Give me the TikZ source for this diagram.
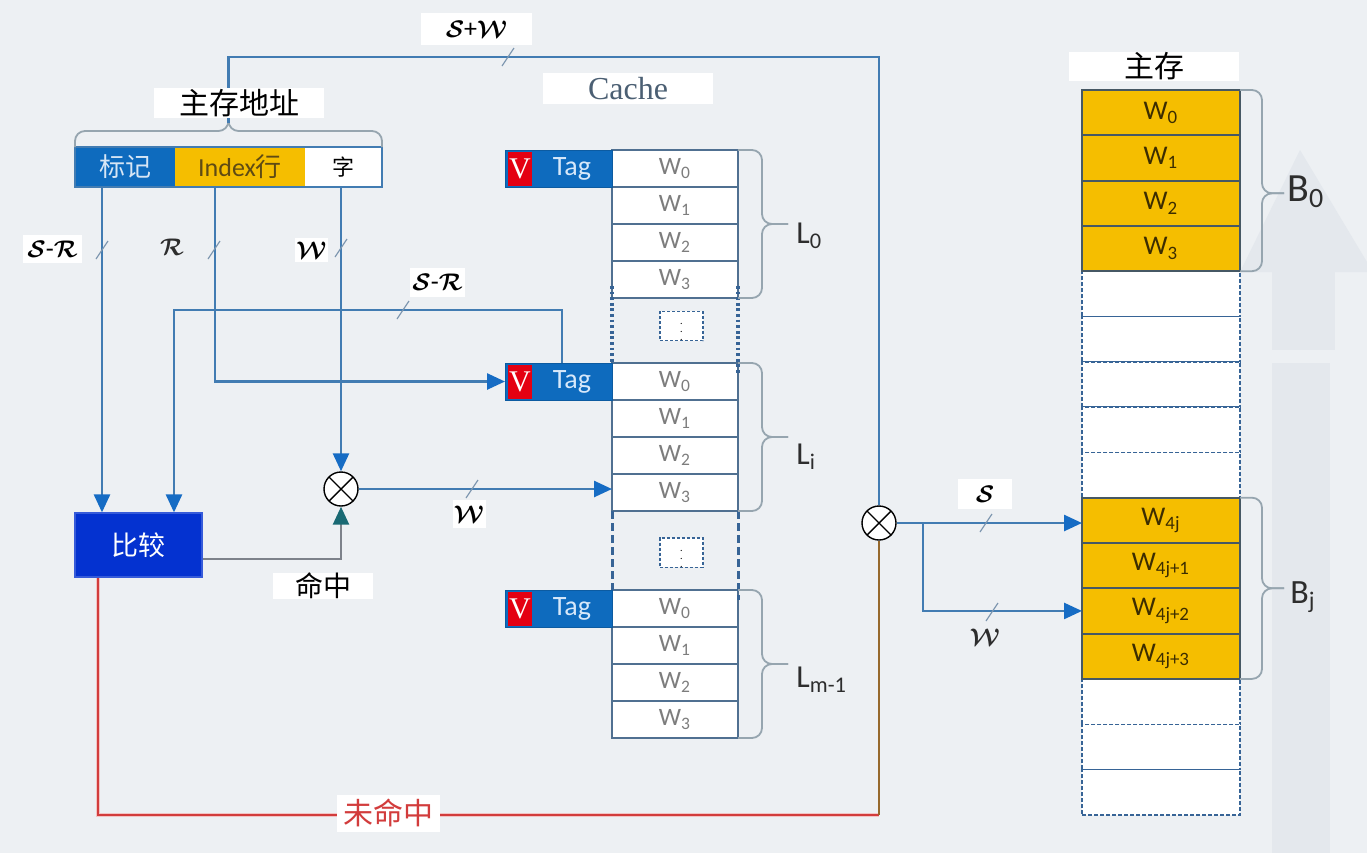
\documentclass[tikz,border=0pt]{standalone}
\usepackage{fontspec}
\usepackage{amsmath}
\setmainfont{Carlito}
\newfontfamily\cjk{Noto Sans CJK SC}
\newfontfamily\serf{Liberation Serif}
\usetikzlibrary{arrows.meta,calc}
\newcommand\fsz[1]{\fontsize{#1}{#1}\selectfont}
\newcommand\scrl[1]{\boldsymbol{\mathcal{#1}}}
\newcommand\tickat[1]{\draw[tick] (#1) ++(-6,9) -- ++(12,-18);}
% vertical brace: top, bottom, arm offset, tip offset, fraction of tip
\newcommand\vbrace[5]{%
  \draw[bstyle] (#1) -- ($(#1)+(#3,0)$) -- ($(#1)!#5!(#2)+(#3,0)$) -- ($(#1)!#5!(#2)+(#4,0)$);
  \draw[bstyle] (#2) -- ($(#2)+(#3,0)$) -- ($(#1)!#5!(#2)+(#3,0)$) -- ($(#1)!#5!(#2)+(#4,0)$);}
% horizontal brace (upwards): left, right, arm offset, tip offset
\newcommand\hbrace[4]{%
  \draw[bstyle] (#1) -- ($(#1)+(0,#3)$) -- ($(#1)!0.5!(#2)+(0,#3)$) -- ($(#1)!0.5!(#2)+(0,#4)$);
  \draw[bstyle] (#2) -- ($(#2)+(0,#3)$) -- ($(#1)!0.5!(#2)+(0,#3)$) -- ($(#1)!0.5!(#2)+(0,#4)$);}
\definecolor{bg}{RGB}{237,240,243}
\definecolor{deco}{RGB}{228,232,237}
\definecolor{lineblue}{RGB}{66,124,178}
\definecolor{arrblue}{RGB}{22,108,196}
\definecolor{tagblue}{RGB}{14,107,190}
\definecolor{vred}{RGB}{228,0,18}
\definecolor{gold}{RGB}{245,190,0}
\definecolor{cmpblue}{RGB}{4,50,208}
\definecolor{cellline}{RGB}{80,112,145}
\definecolor{wgrey}{RGB}{125,125,125}
\definecolor{bracec}{RGB}{150,165,175}
\definecolor{tickc}{RGB}{125,150,175}
\definecolor{missred}{RGB}{210,60,60}
\definecolor{brownl}{RGB}{150,105,45}
\definecolor{hitgrey}{RGB}{125,130,138}
\definecolor{hitteal}{RGB}{25,105,115}
\definecolor{memline}{RGB}{70,88,100}
\definecolor{dashblue}{RGB}{55,100,150}
\definecolor{fieldtxt}{RGB}{215,230,245}
\definecolor{idxtxt}{RGB}{95,75,20}
\definecolor{tagtxtc}{RGB}{215,232,250}
\definecolor{memtext}{RGB}{60,45,0}
\definecolor{cachec}{RGB}{75,95,115}
\definecolor{labc}{RGB}{45,45,45}
\begin{document}
\begin{tikzpicture}[x=0.5pt,y=-0.5pt,
  conn/.style={draw=lineblue,line width=1.3pt},
  arr/.style={-{Triangle[length=9pt,width=8pt,color=arrblue]}},
  tick/.style={draw=tickc,line width=0.6pt},
  bstyle/.style={draw=bracec,line width=0.9pt,rounded corners=5pt},
  wbox/.style={fill=white,inner sep=0pt,outer sep=0pt},
  scriptlab/.style={inner sep=0pt,outer sep=0pt,font=\fsz{13},text=black},
  field/.style={minimum height=20pt,inner sep=0pt,outer sep=0pt,font=\fsz{13}},
  cell/.style={draw=cellline,line width=0.9pt,fill=white,minimum width=63pt,minimum height=18.5pt,inner sep=0pt,outer sep=0pt,text=wgrey,font=\fsz{12.5}},
  tagbox/.style={fill=tagblue,draw=tagblue!85!black,line width=0.5pt,minimum width=53.5pt,minimum height=18.5pt,inner sep=0pt,outer sep=0pt},
  vbox/.style={fill=vred,text=white,minimum width=12pt,minimum height=17pt,inner sep=0pt,font=\serf\fsz{15}},
  tagtxt/.style={text=tagtxtc,inner sep=0pt,font=\fsz{14}},
  minib/.style={draw=dashblue,line width=0.6pt,dash pattern=on 1.5pt off 1pt,fill=white,minimum width=21.5pt,minimum height=13.5pt,inner sep=0pt,font=\fsz{5}},
  dotv/.style={draw=dashblue,line width=1.6pt,dash pattern=on 1.4pt off 1.4pt},
  dashv/.style={draw=dashblue,line width=1.5pt,dash pattern=on 4pt off 2pt},
  memy/.style={draw=memline,line width=0.9pt,fill=gold,minimum width=79pt,minimum height=22.65pt,inner sep=0pt,outer sep=0pt,text=memtext,font=\fsz{13.5}},
  meme/.style={draw=dashblue,line width=0.7pt,dash pattern=on 2pt off 1pt,fill=white,minimum width=79pt,minimum height=22.65pt,inner sep=0pt,outer sep=0pt},
  xor/.style={circle,draw=black,line width=0.7pt,fill=white,minimum size=17pt,inner sep=0pt,
    path picture={\draw[line width=0.7pt] (path picture bounding box.center) +(45:9pt) -- +(225:9pt) +(135:9pt) -- +(-45:9pt);}},
  biglab/.style={anchor=west,inner sep=0pt,text=labc}
]
\useasboundingbox (0,0) rectangle (1367,853);
\fill[bg] (0,0) rectangle (1367,853);
% faint background decoration
\fill[deco] (1240,272) -- (1300,150) -- (1367,262) -- (1367,272) -- cycle;
\fill[deco] (1272,272) rectangle (1335,350);
\fill[deco] (1272,363) rectangle (1330,853);

% ---------- main memory ----------
\foreach \i in {4,5,6,7,8,13,14,15}
  \node[meme] (m\i) at (1161,{90+45.3*\i+22.65}) {};
\foreach \i/\lab in {0/0,1/1,2/2,3/3,9/4j,10/4j+1,11/4j+2,12/4j+3}
  \node[memy] (m\i) at (1161,{90+45.3*\i+22.65}) {W\textsubscript{\lab}};
\vbrace{m0.north east}{m3.south east}{22}{44}{0.57}
\vbrace{m9.north east}{m12.south east}{22}{44}{0.5}
\node[biglab,font=\fsz{20}] (bzero) at (1287,192) {B\textsubscript{0}};
\node[biglab,font=\fsz{17}] (bj) at (1290,597) {B\textsubscript{j}};

% ---------- cache ----------
\foreach \i in {0,...,3} {
  \node[cell] (a\i) at (675,{150+37*\i+18.5}) {W\textsubscript{\i}};
  \node[cell] (b\i) at (675,{363+37*\i+18.5}) {W\textsubscript{\i}};
  \node[cell] (c\i) at (675,{590+37*\i+18.5}) {W\textsubscript{\i}};
}
\foreach \t/\y in {a/168.5,b/381.5,c/608.5} {
  \node[tagbox] (t\t) at (558.5,\y) {};
  \node[vbox] (v\t) at (520,\y) {V};
  \node[tagtxt] (g\t) at (572,\y) {Tag};
}
\draw[dotv] ($(a3.south west)+(0,-12)$) -- (b0.north west);
\draw[dotv] ($(a3.south east)+(0,-12)$) -- ($(b0.north east)+(0,10)$);
\draw[dashv] (b3.south west) -- (c0.north west);
\draw[dashv] (b3.south east) -- ($(c0.north east)+(0,10)$);
\node[minib] (d1) at (681.5,326) {$\vdots$};
\node[minib] (d2) at (681.5,552.5) {$\vdots$};
\vbrace{a0.north east}{a3.south east}{24}{50}{0.5}
\vbrace{b0.north east}{b3.south east}{24}{50}{0.5}
\vbrace{c0.north east}{c3.south east}{24}{50}{0.5}
\node[biglab,font=\fsz{16}] (lzero) at (796,236) {L\textsubscript{0}};
\node[biglab,font=\fsz{16}] (li) at (796,457) {L\textsubscript{i}};
\node[biglab,font=\fsz{16}] (lm) at (796,680) {L\textsubscript{m-1}};

% ---------- address ----------
\node[field,fill=tagblue,minimum width=50pt,text=fieldtxt] (fa) at (125,167) {\cjk 标记};
\node[field,fill=gold,minimum width=65pt,text=idxtxt] (fb) at (240,167) {Index\cjk 行};
\node[field,fill=white,minimum width=38.5pt,text=black] (fc) at (343.5,167) {\cjk\fsz{11}字};
\draw[draw=lineblue,line width=0.8pt] (fa.north west) rectangle (fc.south east);
\hbrace{fa.north west}{fc.north east}{-16}{-24}

% ---------- compare and gates ----------
\node[fill=cmpblue,draw=cmpblue!80!white,line width=0.6pt,minimum width=63.5pt,minimum height=32pt,inner sep=0pt,text=white,font=\cjk\fsz{13.5}] (cmp) at (138.5,545) {比较};
\node[xor] (mx1) at (341,489) {};
\node[xor] (mx2) at (879,523) {};

\coordinate (in1) at (102,0);
\coordinate (in2) at (215,0);
\coordinate (in3) at (174,0);
\coordinate (sr) at (562,310);
\coordinate (tip) at (228.5,123);
\coordinate (tr) at (879,57);
\coordinate (hy) at (0,559);
\coordinate (mis) at (98,815);
\coordinate (br) at (923,523);

% ---------- connectors ----------
\draw[conn,arr] (fa.south -| in1) -- (cmp.north -| in1);
\draw[conn,arr] (fb.south -| in2) |- (tb.west);
\draw[conn,arr] (fc.south -| mx1) -- (mx1.north);
\draw[conn,arr] (tb.north -| sr) -- (sr) -| (cmp.north -| in3);
\draw[conn,arr] (mx1.east) -- (mx1.east -| b3.west);
\draw[conn] (tip) |- (tr) -- (mx2.north);
\draw[draw=hitgrey,line width=1.3pt,-{Triangle[length=9pt,width=8pt,color=hitteal]}] (cmp.east |- hy) -| (mx1.south);
\draw[draw=missred!30,line width=2.2pt] (cmp.south -| mis) -- (mis) -- (mis -| mx2);
\draw[draw=missred,line width=1.1pt] (cmp.south -| mis) -- (mis) -- (mis -| mx2);
\draw[draw=brownl,line width=1.3pt] (mis -| mx2) -- (mx2.south);
\draw[conn,arr] (mx2.east) -- (mx2.east -| m9.west);
\draw[conn,arr] (br) |- (m11.west);

% ---------- width ticks ----------
\tickat{508,57}
\tickat{102,250}
\tickat{214,250}
\tickat{341,248}
\tickat{403,310}
\tickat{472,489}
\tickat{986,523}
\tickat{992,612}

% ---------- labels ----------
\node[wbox,minimum width=55.5pt,minimum height=16pt,font=\fsz{13}] (lsw) at (476.5,29) {$\scrl{S}$+$\scrl{W}$};
\node[wbox,minimum width=29.5pt,minimum height=14pt,font=\fsz{13}] (lsr1) at (52.5,249) {$\scrl{S}$-$\scrl{R}$};
\node[scriptlab,text=labc] (lr) at (172,247) {$\scrl{R}$};
\node[wbox,minimum width=16.5pt,minimum height=12pt,font=\fsz{13}] (lw1) at (311.5,250) {$\scrl{W}$};
\node[wbox,minimum width=27.5pt,minimum height=14.5pt,font=\fsz{13}] (lsr2) at (437.5,282.5) {$\scrl{S}$-$\scrl{R}$};
\node[wbox,minimum width=16.5pt,minimum height=14pt,font=\fsz{13}] (lw2) at (469,514) {$\scrl{W}$};
\node[wbox,minimum width=27pt,minimum height=15pt,font=\fsz{13}] (ls) at (985,494) {$\scrl{S}$};
\node[scriptlab,text=labc] (lw3) at (985,637) {$\scrl{W}$};

\node[wbox,minimum width=85pt,minimum height=15pt,font=\cjk\fsz{15}] (addr) at (239,103) {主存地址};
\node[wbox,minimum width=85pt,minimum height=15.5pt,font=\serf\fsz{16},text=cachec] (cachel) at (628,88.5) {Cache};
\node[wbox,minimum width=85pt,minimum height=14.5pt,font=\cjk\fsz{15}] (mml) at (1154,66) {主存};
\node[wbox,minimum width=50pt,minimum height=11pt,font=\cjk\fsz{14}] (hitl) at (323,586) {命中};
\node[wbox,minimum width=51.5pt,minimum height=18.5pt,font=\cjk\fsz{15},text=missred] (missl) at (388,813) {未命中};
\end{tikzpicture}
\end{document}
